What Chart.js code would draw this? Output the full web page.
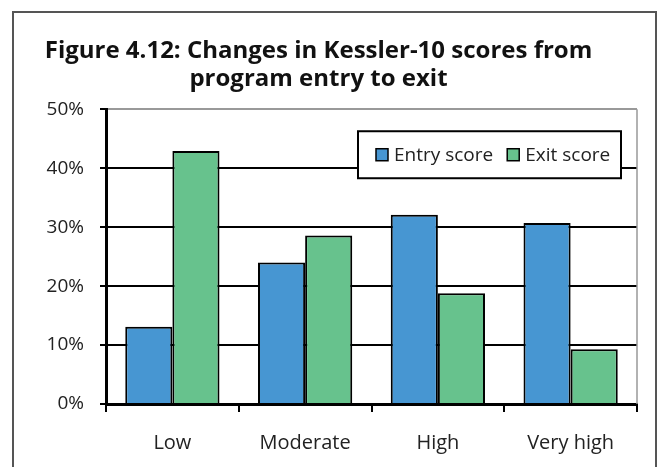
<!DOCTYPE html>
<html>
<head>
<meta charset="utf-8">
<script src="https://cdn.jsdelivr.net/npm/chart.js@4.4.0/dist/chart.umd.min.js"></script>
<style>
  html, body { margin:0; padding:0; width:657px; height:467px; overflow:hidden; background:#fff; }
  #frame { position:absolute; left:12px; top:11px; width:645px; height:500px; box-sizing:border-box; border:2px solid #555; }
  #wrap { position:absolute; left:0; top:0; width:657px; height:467px; }
</style>
</head>
<body>
<div id="frame"></div>
<div id="wrap"><canvas id="kesslerCanvas" width="657" height="467"></canvas></div>
<script>
// chart data
const categories = ["Low", "Moderate", "High", "Very high"];
const entryScores = [13.1, 24.0, 32.1, 30.7];
const exitScores = [42.9, 28.6, 18.8, 9.3];
const seriesNames = ["Entry score", "Exit score"];
const yTickValues = [0, 10, 20, 30, 40, 50];
const titleLines = ["Figure 4.12: Changes in Kessler-10 scores from", "program entry to exit"];

const blue = "#4796d2";
const green = "#67c28d";
const FONT = "'Open Sans', 'Noto Sans', sans-serif";

// draws the grey plot border on the right + the boxed legend inside the plot
const plotExtras = {
  id: "plotExtras",
  afterDraw(chart) {
    const ctx = chart.ctx;
    const area = chart.chartArea;
    ctx.save();
    ctx.strokeStyle = "#999";
    ctx.lineWidth = 1.5;
    ctx.beginPath();
    ctx.moveTo(area.right, area.top);
    ctx.lineTo(area.right, area.bottom);
    ctx.stroke();

    // legend box
    const boxW = 263, boxH = 47;
    const bx = area.right - 16 - boxW;
    const by = area.top + 22;
    ctx.fillStyle = "#fff";
    ctx.fillRect(bx, by, boxW, boxH);
    ctx.strokeStyle = "#000";
    ctx.lineWidth = 2;
    ctx.strokeRect(bx, by, boxW, boxH);

    ctx.font = "19px " + FONT;
    ctx.textBaseline = "middle";
    ctx.fillStyle = "#222";
    let x = bx + 18;
    const cy = by + boxH / 2 + 1;
    chart.data.datasets.forEach(function(ds) {
      ctx.fillStyle = ds.backgroundColor;
      ctx.fillRect(x, cy - 7, 12, 12);
      ctx.strokeStyle = "#000";
      ctx.lineWidth = 1.5;
      ctx.strokeRect(x, cy - 7, 12, 12);
      ctx.fillStyle = "#222";
      ctx.fillText(ds.label, x + 18, cy);
      x += 18 + ctx.measureText(ds.label).width + 14;
    });
    ctx.restore();
  }
};

const canvas = document.getElementById("kesslerCanvas");
new Chart(canvas, {
  type: "bar",
  data: {
    labels: categories,
    datasets: [
      { label: seriesNames[0], data: entryScores, backgroundColor: blue, borderColor: "#000", borderWidth: 2 },
      { label: seriesNames[1], data: exitScores, backgroundColor: green, borderColor: "#000", borderWidth: 2 }
    ]
  },
  options: {
    responsive: false,
    animation: false,
    devicePixelRatio: 1,
    categoryPercentage: 0.71,
    barPercentage: 1,
    layout: { padding: { left: 0, right: 20, top: 0, bottom: 0 } },
    plugins: {
      legend: { display: false },
      tooltip: { enabled: false },
      title: {
        display: true,
        text: titleLines,
        color: "#111",
        font: { family: FONT, size: 24, weight: "bold", lineHeight: 1.13 },
        padding: { top: 38, bottom: 17 }
      }
    },
    scales: {
      y: {
        min: 0,
        max: 50,
        afterBuildTicks: function(scale) {
          scale.ticks = yTickValues.map(function(v) { return { value: v }; });
        },
        afterFit: function(scale) { scale.width = 106; },
        ticks: {
          callback: function(v) { return v + "%"; },
          color: "#222",
          padding: 16,
          font: { family: FONT, size: 19 }
        },
        grid: {
          color: function(c) { return c.tick && c.tick.value === 50 ? "#999" : "#000"; },
          lineWidth: 2,
          tickColor: "#000",
          tickLength: 6
        },
        border: { color: "#000", width: 3 }
      },
      x: {
        afterFit: function(scale) { scale.height = 63; },
        ticks: {
          color: "#222",
          padding: 19,
          font: { family: FONT, size: 20 }
        },
        grid: {
          offset: true,
          drawOnChartArea: false,
          color: "#000",
          lineWidth: 2,
          tickLength: 8
        },
        border: { color: "#000", width: 3 }
      }
    }
  },
  plugins: [plotExtras]
});
</script>
</body>
</html>
